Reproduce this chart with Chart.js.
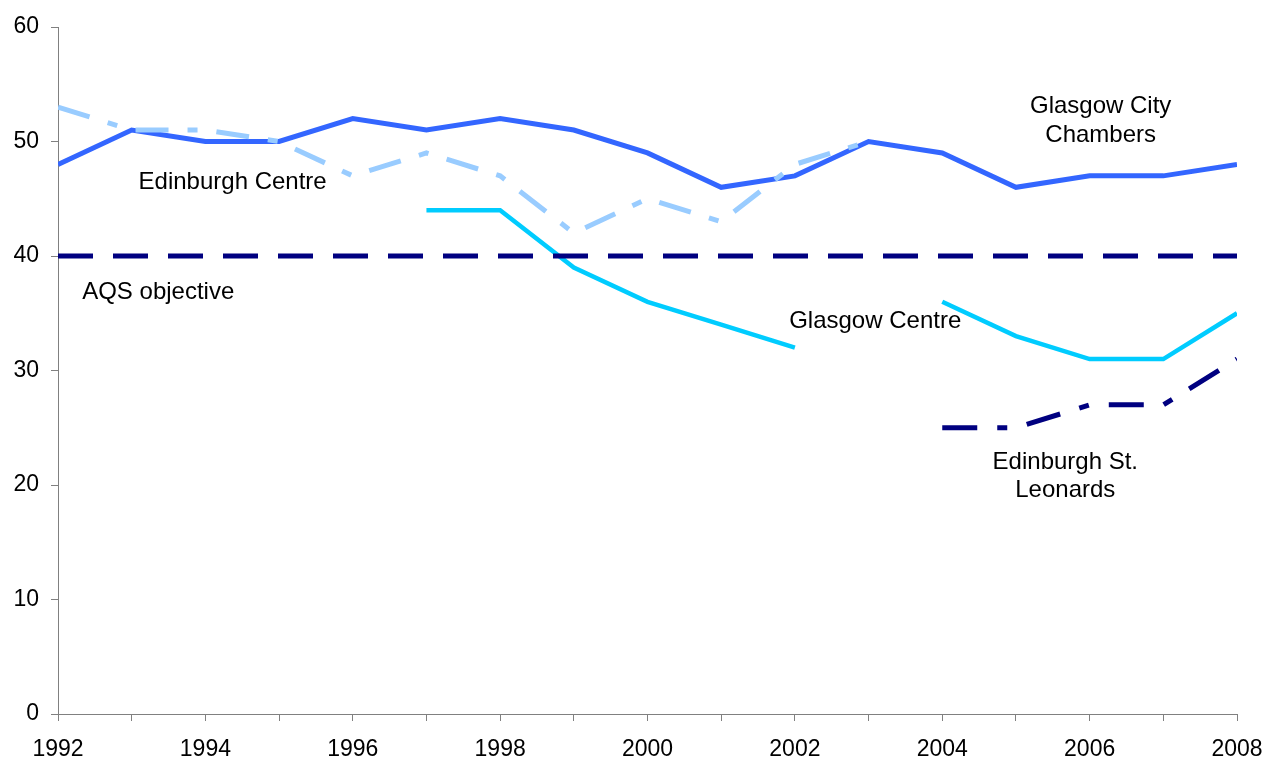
<!DOCTYPE html>
<html>
<head>
<meta charset="utf-8">
<script src="https://cdn.jsdelivr.net/npm/chart.js@4/dist/chart.umd.min.js"></script>
<style>
html,body{margin:0;padding:0;background:#fff;}
#wrap{width:1266px;height:761px;position:relative;}
</style>
</head>
<body>
<div id="wrap"><canvas id="c" width="1266" height="761"></canvas></div>
<script>
const years = [1992,1993,1994,1995,1996,1997,1998,1999,2000,2001,2002,2003,2004,2005,2006,2007,2008];
const glasgowCityChambers = [48,51,50,50,52,51,52,51,49,46,47,50,49,46,47,47,48];
const edinburghCentre = [53,51,51,50,47,49,47,42,45,43,48,50,null,null,null,null,null];
const glasgowCentre = [null,null,null,null,null,44,44,39,36,34,32,null,36,33,31,31,35];
const edinburghStLeonards = [null,null,null,null,null,null,null,null,null,null,null,null,25,25,27,27,31];
const aqsObjective = [40,40,40,40,40,40,40,40,40,40,40,40,40,40,40,40,40];
const yTicks = [0,10,20,30,40,50,60];

const labelTexts = [
  {lines:["Glasgow City","Chambers"], x:2006.15, y:[53.1,50.55]},
  {lines:["Edinburgh Centre"], x:1994.37, y:[46.45]},
  {lines:["AQS objective"], x:1993.36, y:[36.85]},
  {lines:["Glasgow Centre"], x:2003.09, y:[34.3]},
  {lines:["Edinburgh St.","Leonards"], x:2005.67, y:[21.95,19.5]}
];

function pts(arr){ return years.map((yr,i)=>({x:yr,y:arr[i]})); }

const FONT = '"Liberation Sans", Arial, sans-serif';

const labelPlugin = {
  id:'labels',
  afterDatasetsDraw(chart){
    const ctx = chart.ctx, xs = chart.scales.x, ys = chart.scales.y;
    ctx.save();
    ctx.fillStyle = '#000';
    ctx.font = '24px ' + FONT;
    ctx.textAlign = 'center';
    ctx.textBaseline = 'middle';
    labelTexts.forEach(l=>{
      l.lines.forEach((t,i)=>{
        ctx.fillText(t, xs.getPixelForValue(l.x), ys.getPixelForValue(l.y[i]));
      });
    });
    ctx.restore();
  }
};

Chart.defaults.font.family = FONT;
Chart.defaults.color = '#000';

new Chart(document.getElementById('c'), {
  type:'line',
  data:{
    datasets:[
      {label:'AQS objective', data:pts(aqsObjective), borderColor:'#000080', borderWidth:5, borderDash:[35,20], pointRadius:0, fill:false, tension:0},
      {label:'Edinburgh Centre', data:pts(edinburghCentre), borderColor:'#99CCFF', borderWidth:5, borderDash:[33,19,10,19], pointRadius:0, fill:false, tension:0, spanGaps:false},
      {label:'Glasgow Centre', data:pts(glasgowCentre), borderColor:'#00CCFF', borderWidth:4.5, pointRadius:0, fill:false, tension:0, spanGaps:false},
      {label:'Edinburgh St. Leonards', data:pts(edinburghStLeonards), borderColor:'#000080', borderWidth:5, borderDash:[35,20,10,20], pointRadius:0, fill:false, tension:0, spanGaps:false},
      {label:'Glasgow City Chambers', data:pts(glasgowCityChambers), borderColor:'#3366FF', borderWidth:5, pointRadius:0, fill:false, tension:0}
    ]
  },
  options:{
    responsive:false,
    animation:false,
    layout:{padding:{left:0,right:29,top:27,bottom:0}},
    plugins:{legend:{display:false}, tooltip:{enabled:false}},
    scales:{
      x:{
        type:'linear', min:1992, max:2008,
        afterBuildTicks(s){ s.ticks = years.map(v=>({value:v})); },
        afterFit(s){ s.height = 47; s.paddingLeft = 0; s.paddingRight = 0; },
        border:{display:true,color:'#808080',width:1},
        grid:{display:true, drawOnChartArea:false, drawTicks:true, tickLength:7, color:'#808080'},
        ticks:{autoSkip:false, maxRotation:0, padding:15, font:{size:23}, color:'#000',
          callback:(v)=> (v % 2 === 0 ? String(v) : '')}
      },
      y:{
        min:0, max:60,
        afterBuildTicks(s){ s.ticks = yTicks.map(v=>({value:v})); },
        afterFit(s){ s.width = 58; s.paddingTop = 0; s.paddingBottom = 0; },
        border:{display:true,color:'#808080',width:1},
        grid:{display:true, drawOnChartArea:false, drawTicks:true, tickLength:7, color:'#808080'},
        ticks:{padding:12, font:{size:23}, color:'#000'}
      }
    }
  },
  plugins:[labelPlugin]
});
</script>
</body>
</html>
